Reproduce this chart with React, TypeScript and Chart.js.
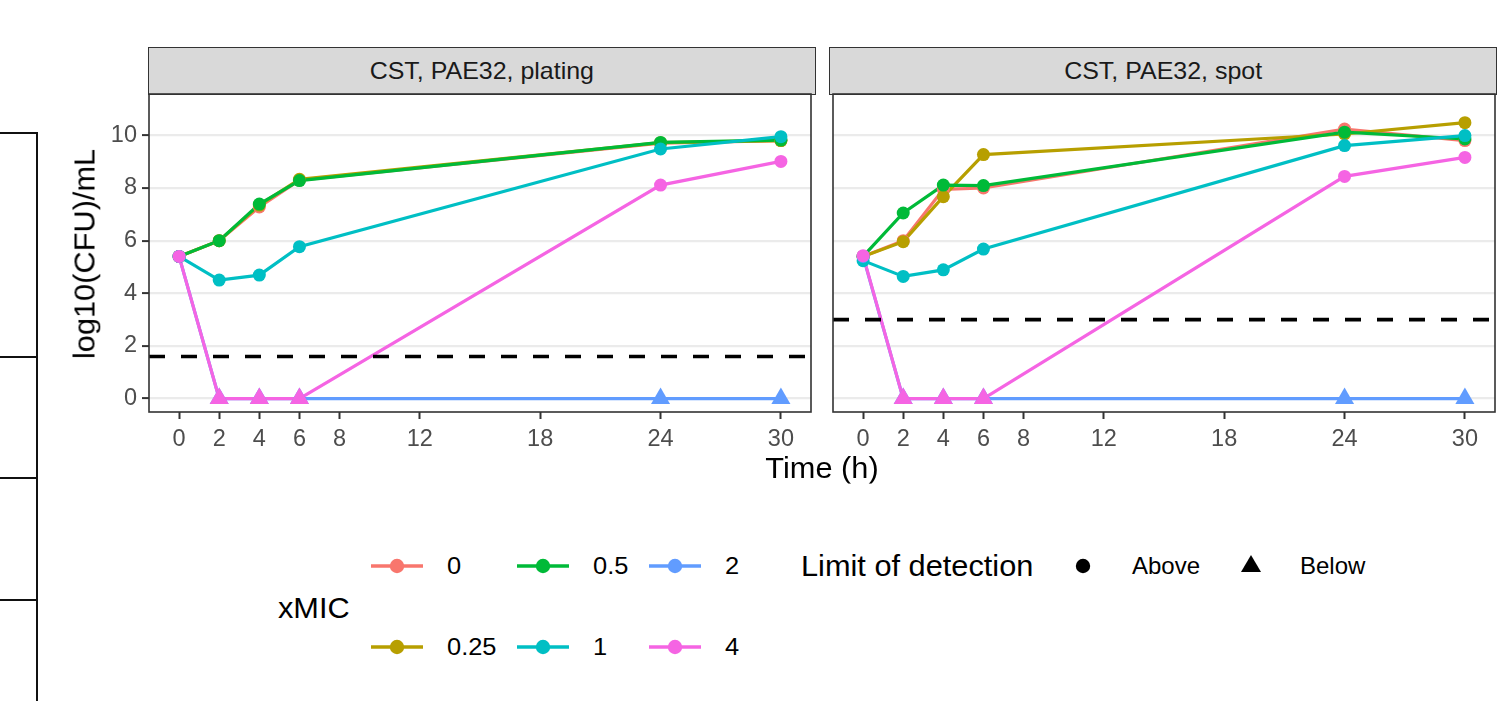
import React, { useEffect, useRef } from "react";
import { Chart, registerables } from "chart.js";

Chart.register(...registerables);

// ---------- data ----------
const times = [0, 2, 4, 6, 24, 30];
const xTickValues = [0, 2, 4, 6, 8, 12, 18, 24, 30];
const yTickValues = [0, 2, 4, 6, 8, 10];
const micLevels = ["0", "0.25", "0.5", "1", "2", "4"];
const micColors = ["#F8766D", "#B79F00", "#00BA38", "#00BFC4", "#619CFF", "#F564E3"];
const facetTitles = ["CST, PAE32, plating", "CST, PAE32, spot"];
const lodValues = [1.6, 3.0];

const platingMic0 = [5.4, 6.0, 7.28, 8.3, 9.7, 9.8];
const platingMic025 = [5.4, 6.0, 7.35, 8.33, 9.72, 9.8];
const platingMic05 = [5.4, 6.0, 7.39, 8.28, 9.73, 9.82];
const platingMic1 = [5.4, 4.5, 4.69, 5.77, 9.48, 9.95];
const platingMic2 = [5.4, 0, 0, 0, 0, 0];
const platingMic4 = [5.4, 0, 0, 0, 8.11, 9.01];

const spotMic0 = [5.4, 6.0, 7.95, 8.0, 10.24, 9.8];
const spotMic025 = [5.4, 5.96, 7.67, 9.27, 10.05, 10.48];
const spotMic05 = [5.4, 7.05, 8.11, 8.09, 10.12, 9.86];
const spotMic1 = [5.24, 4.64, 4.89, 5.68, 9.61, 9.99];
const spotMic2 = [5.4, 0, 0, 0, 0, 0];
const spotMic4 = [5.43, 0, 0, 0, 8.44, 9.16];

const platingSeries = [platingMic0, platingMic025, platingMic05, platingMic1, platingMic2, platingMic4];
const spotSeries = [spotMic0, spotMic025, spotMic05, spotMic1, spotMic2, spotMic4];

// ---------- styling ----------
const FONT = "'Liberation Sans', Arial, Helvetica, sans-serif";
const X_MIN = -1.5;
const X_MAX = 31.5;
const Y_MIN = -0.51;
const Y_MAX = 11.57;

const panelBorder = {
  id: "panelBorder",
  afterDraw(chart: any) {
    const { ctx, chartArea: a } = chart;
    ctx.save();
    ctx.strokeStyle = "#333333";
    ctx.lineWidth = 1.6;
    ctx.strokeRect(a.left, a.top, a.right - a.left, a.bottom - a.top);
    ctx.restore();
  },
};

function buildConfig(series: number[][], lod: number, showY: boolean, padLeft: number, padRight: number) {
  const datasets: any[] = [];
  datasets.push({
    label: "lod",
    data: [
      { x: X_MIN, y: lod },
      { x: X_MAX, y: lod },
    ],
    borderColor: "#000000",
    borderWidth: 3.6,
    borderDash: [16, 16],
    pointRadius: 0,
    showLine: true,
    order: 0,
  });
  series.forEach((vals, i) => {
    const pts = times.map((t, j) => ({ x: t, y: vals[j] }));
    datasets.push({
      label: micLevels[i] + " line",
      data: pts,
      borderColor: micColors[i],
      borderWidth: 3.2,
      pointRadius: 0,
      showLine: true,
      order: 30 - i,
    });
    datasets.push({
      label: micLevels[i],
      data: pts,
      showLine: false,
      pointStyle: vals.map((v) => (v < lod ? "triangle" : "circle")),
      pointRadius: vals.map((v) => (v < lod ? 11 : 6.5)),
      pointBackgroundColor: micColors[i],
      pointBorderColor: micColors[i],
      pointBorderWidth: 0,
      order: 20 - i,
    });
  });

  return {
    type: "scatter",
    data: { datasets },
    options: {
      animation: false,
      responsive: false,
      events: [],
      layout: { padding: { left: padLeft, right: padRight, top: 94, bottom: 0 } },
      plugins: { legend: { display: false }, tooltip: { enabled: false } },
      scales: {
        x: {
          type: "linear",
          min: X_MIN,
          max: X_MAX,
          afterBuildTicks: (scale: any) => {
            scale.ticks = xTickValues.map((v) => ({ value: v }));
          },
          afterFit: (scale: any) => {
            scale.height = 48;
          },
          grid: {
            drawOnChartArea: false,
            drawTicks: true,
            tickLength: 7,
            tickColor: "#333333",
            tickWidth: 2,
          },
          border: { display: false },
          ticks: {
            autoSkip: false,
            maxRotation: 0,
            padding: 6,
            color: "#4D4D4D",
            font: { family: FONT, size: 23.5 },
            callback: (v: any) => String(v),
          },
        },
        y: {
          type: "linear",
          min: Y_MIN,
          max: Y_MAX,
          afterBuildTicks: (scale: any) => {
            scale.ticks = yTickValues.map((v) => ({ value: v }));
          },
          afterFit: (scale: any) => {
            scale.width = showY ? 149 : 0;
          },
          grid: {
            drawOnChartArea: true,
            color: "#EBEBEB",
            lineWidth: 2.2,
            drawTicks: showY,
            tickLength: 7,
            tickColor: "#333333",
            tickWidth: 2,
          },
          border: { display: false },
          ticks: {
            display: showY,
            padding: 5,
            color: "#4D4D4D",
            font: { family: FONT, size: 23.5 },
            callback: (v: any) => String(v),
          },
        },
      },
    },
    plugins: [panelBorder],
  };
}

function Panel(props: { left: number; width: number; series: number[][]; lod: number; showY: boolean; padLeft: number; padRight: number }) {
  const ref = useRef<HTMLCanvasElement | null>(null);
  useEffect(() => {
    if (!ref.current) return;
    const chart = new Chart(ref.current, buildConfig(props.series, props.lod, props.showY, props.padLeft, props.padRight) as any);
    return () => chart.destroy();
  }, []);
  return (
    <canvas
      ref={ref}
      width={props.width}
      height={460}
      style={{ position: "absolute", left: props.left, top: 0, width: props.width, height: 460 }}
    />
  );
}

function Txt(props: { x: number; y: number; size: number; children: any; color?: string; anchor?: "start" | "middle"; sx?: number }) {
  const tx = props.anchor === "middle" ? "-50%" : "0";
  return (
    <div
      style={{
        position: "absolute",
        left: props.x,
        top: props.y,
        transform: `translate(${tx}, -50%) scaleX(${props.sx || 1.06})`,
        transformOrigin: props.anchor === "middle" ? "50% 50%" : "0 50%",
        fontFamily: FONT,
        fontSize: props.size,
        lineHeight: 1,
        whiteSpace: "nowrap",
        color: props.color || "#000000",
      }}
    >
      {props.children}
    </div>
  );
}

function Strip(props: { left: number; title: string }) {
  return (
    <div
      style={{
        position: "absolute",
        left: props.left - 0.8,
        top: 47,
        width: 667.6,
        height: 48,
        boxSizing: "border-box",
        background: "#D9D9D9",
        border: "1.6px solid #333333",
        display: "flex",
        alignItems: "center",
        justifyContent: "center",
        fontFamily: FONT,
        fontSize: 24,
        color: "#1A1A1A",
      }}
    >
      <span style={{ display: "inline-block", transform: "scaleX(1.04)" }}>{props.title}</span>
    </div>
  );
}

function MicKey(props: { x: number; y: number; color: string }) {
  return (
    <svg
      width={52}
      height={20}
      style={{ position: "absolute", left: props.x, top: props.y - 10 }}
    >
      <line x1={0} y1={10} x2={52} y2={10} stroke={props.color} strokeWidth={3.4} />
      <circle cx={26} cy={10} r={7.2} fill={props.color} />
    </svg>
  );
}

export default function App() {
  const legendCols = [
    { keyX: 371, labelX: 447 },
    { keyX: 517, labelX: 593 },
    { keyX: 649, labelX: 725 },
  ];
  const legendRows = [566, 647];
  // ggplot fills legend by column: col0 -> 0, 0.25 ; col1 -> 0.5, 1 ; col2 -> 2, 4
  const legendItems = micLevels.map((lab, i) => ({
    lab,
    color: micColors[i],
    col: Math.floor(i / 2),
    row: i % 2,
  }));

  return (
    <div style={{ position: "absolute", left: 0, top: 0, width: 1512, height: 701, background: "#FFFFFF", overflow: "hidden" }}>
      {/* decorative left frame */}
      <div style={{ position: "absolute", left: 36, top: 132, width: 2, height: 569, background: "#111" }} />
      {[132, 356, 477, 599].map((y) => (
        <div key={y} style={{ position: "absolute", left: 0, top: y, width: 38, height: 2, background: "#111" }} />
      ))}

      <Strip left={149} title={facetTitles[0]} />
      <Strip left={830} title={facetTitles[1]} />

      <Panel left={0} width={822} series={platingSeries} lod={lodValues[0]} showY={true} padLeft={0} padRight={7} />
      <Panel left={822} width={690} series={spotSeries} lod={lodValues[1]} showY={false} padLeft={8} padRight={17} />

      {/* axis titles */}
      <div
        style={{
          position: "absolute",
          left: 85,
          top: 254,
          transform: "translate(-50%, -50%) rotate(-90deg) scaleX(1.06)",
          fontFamily: FONT,
          fontSize: 29,
          lineHeight: 1,
          whiteSpace: "nowrap",
          color: "#000",
        }}
      >
        log10(CFU)/mL
      </div>
      <Txt x={822} y={468} size={29} anchor="middle">
        Time (h)
      </Txt>

      {/* xMIC legend */}
      <Txt x={278} y={608} size={29}>
        xMIC
      </Txt>
      {legendItems.map((it) => (
        <React.Fragment key={it.lab}>
          <MicKey x={legendCols[it.col].keyX} y={legendRows[it.row]} color={it.color} />
          <Txt x={legendCols[it.col].labelX} y={legendRows[it.row]} size={24}>
            {it.lab}
          </Txt>
        </React.Fragment>
      ))}

      {/* limit of detection legend */}
      <Txt x={801} y={566} size={29}>
        Limit of detection
      </Txt>
      <svg width={20} height={20} style={{ position: "absolute", left: 1073, top: 556 }}>
        <circle cx={10} cy={10} r={7.2} fill="#000" />
      </svg>
      <Txt x={1132} y={566} size={24} sx={1.0}>
        Above
      </Txt>
      <svg width={24} height={22} style={{ position: "absolute", left: 1239, top: 553 }}>
        <polygon points="12,2 22,19 2,19" fill="#000" />
      </svg>
      <Txt x={1300} y={566} size={24} sx={1.0}>
        Below
      </Txt>
    </div>
  );
}
